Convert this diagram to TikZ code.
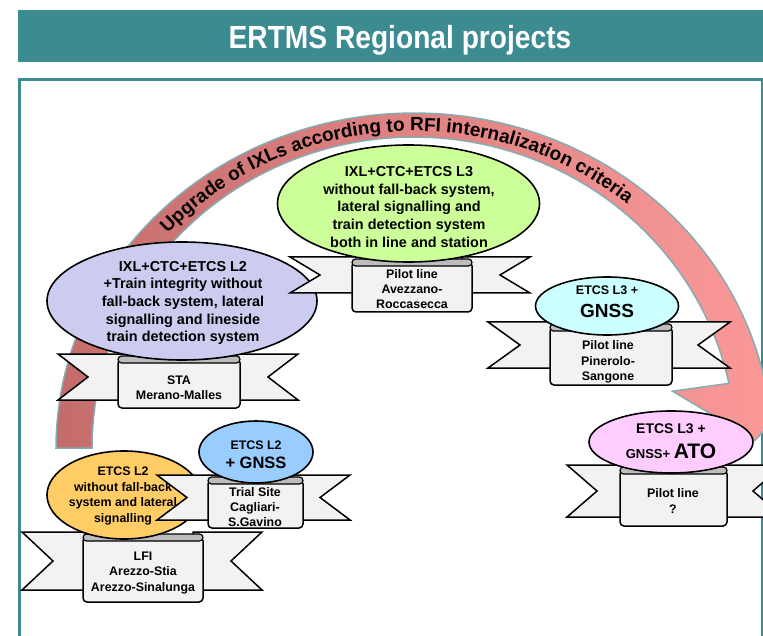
\documentclass[tikz,border=0pt]{standalone}
\usepackage{fontspec}
\setmainfont{Liberation Sans}
\newfontfamily\titlefont[FakeStretch=0.88]{Liberation Sans}
\usetikzlibrary{shapes.geometric,decorations.text}

\definecolor{barteal}{HTML}{3C8B91}
\definecolor{arcdark}{HTML}{C46C6C}
\definecolor{arclight}{HTML}{FF9C9C}
\definecolor{arcedge}{HTML}{86ABB0}
\definecolor{fillLav}{HTML}{CCCCF0}
\definecolor{fillGreen}{HTML}{CCFF99}
\definecolor{fillCyan}{HTML}{CCFFFF}
\definecolor{fillPink}{HTML}{FFCCFF}
\definecolor{fillOrange}{HTML}{FFCC66}
\definecolor{fillBlue}{HTML}{99CCFF}
\definecolor{ribbonGray}{HTML}{F2F2F2}
\definecolor{rollGray}{HTML}{BDBDBD}

\tikzset{
  bubble/.style={ellipse, draw=black, line width=1.6pt, inner sep=0pt},
  bubbletext/.style={align=center, inner sep=0pt,
    font=\bfseries\fontsize{14.4}{17.6}\selectfont},
  smalltext/.style={align=center, inner sep=0pt,
    font=\bfseries\fontsize{12.4}{15.4}\selectfont},
  wing/.style={draw=black, line width=1.5pt, fill=ribbonGray, line join=miter},
  roll/.style={draw=black, line width=1.2pt, fill=rollGray},
  paneltext/.style={align=center, inner sep=0pt,
    font=\bfseries\fontsize{12.4}{15.4}\selectfont}
}

% Down ribbon: #1 left end, #2 right end, #3 notch depth, #4 wing top,
% #5 wing bottom, #6 panel left, #7 panel right, #8 panel bottom
\newcommand{\ribbonbase}[8]{%
  \draw[wing] (#1,#4) -- ({#6+10},#4) -- ({#6+10},#5) -- (#1,#5)
     -- ({#1+#3},{(#4+#5)/2}) -- cycle;
  \draw[wing] (#2,#4) -- ({#7-10},#4) -- ({#7-10},#5) -- (#2,#5)
     -- ({#2-#3},{(#4+#5)/2}) -- cycle;
  \draw[wing, rounded corners=4pt] (#6,{#4+5}) rectangle (#7,#8);
  \draw[roll, rounded corners=3.5pt] (#6,{#4+2}) rectangle (#7,{#4+9});
}

\begin{document}
\begin{tikzpicture}[x=1pt,y=-1pt]
  \clip (0,0) rectangle (763,636);
  \fill[white] (0,0) rectangle (763,636);

  % heading bar and frame
  \fill[barteal] (18,10) rectangle (780,62);
  \node[anchor=base, text=white, inner sep=0pt,
        font=\titlefont\bfseries\fontsize{32}{32}\selectfont] (title)
        at (400,48.5) {ERTMS Regional projects};
  \draw[barteal, line width=3pt] (19.5,80) rectangle (762,700);

  % curved arrow
  \coordinate (barbOut) at (820.6,370.5);
  \coordinate (tip) at (754.9,440.3);
  \coordinate (barbIn) at (672.6,391.2);
  \path[draw=arcedge, line width=1.5pt, left color=arcdark, right color=arclight]
    plot[domain=180:348, samples=90, variable=\t] ({414+358*cos(\t)}, {448+335*sin(\t)})
    -- (barbOut) -- (tip) -- (barbIn)
    -- plot[domain=348:180, samples=90, variable=\t] ({414+322*cos(\t)}, {448+311*sin(\t)})
    -- cycle;
  \path[decorate, decoration={text along path, text align=center,
      text={|\bfseries\fontsize{19}{19}\selectfont|Upgrade of IXLs according to RFI internalization criteria}}]
    plot[domain=200:332, samples=120, variable=\t] ({414+334*cos(\t)}, {448+317*sin(\t)});

  % LFI
  \ribbonbase{22}{262}{31}{532}{590}{83}{203}{602}
  \node[paneltext] (lfiText) at (143,573) {LFI\\Arezzo-Stia\\Arezzo-Sinalunga};
  \node[bubble, fill=fillOrange, minimum width=154pt, minimum height=88pt] (lfiBubble) at (124,495) {};
  \node[smalltext] (lfiLabel) at (123,496) {ETCS L2\\without fall-back\\system and lateral\\signalling};

  % Trial site
  \ribbonbase{157}{350}{30}{475}{520}{208}{303}{528}
  \node[paneltext] (trialText) at (255,507) {Trial Site\\Cagliari-\\S.Gavino};
  \node[bubble, fill=fillBlue, minimum width=114pt, minimum height=62pt] (trialBubble) at (256,452) {};
  \node[anchor=base, inner sep=0pt, font=\bfseries\fontsize{12.4}{12.4}\selectfont] (trialTop) at (256,449.4) {ETCS L2};
  \node[anchor=base, inner sep=0pt, font=\bfseries\fontsize{16.5}{16.5}\selectfont] (trialBig) at (256,468) {+ GNSS};

  % STA
  \ribbonbase{58}{298}{30}{354}{400}{118}{240}{408}
  \node[paneltext] (staText) at (179,388) {STA\\Merano-Malles};
  \node[bubble, fill=fillLav, minimum width=270pt, minimum height=118pt] (staBubble) at (182,301) {};
  \node[bubbletext] (staLabel) at (183,303) {IXL+CTC+ETCS L2\\+Train integrity without\\fall-back system, lateral\\signalling and lineside\\train detection system};

  % Avezzano
  \ribbonbase{290}{530}{30}{257}{293}{352}{472}{312}
  \node[paneltext] (aveText) at (412,289) {Pilot line\\Avezzano-\\Roccasecca};
  \node[bubble, fill=fillGreen, minimum width=262pt, minimum height=117pt] (aveBubble) at (408.5,203.5) {};
  \node[bubbletext] (aveLabel) at (409,207) {IXL+CTC+ETCS L3\\without fall-back system,\\lateral signalling and\\train detection system\\both in line and station};

  % Pinerolo
  \ribbonbase{488}{730}{32}{322}{368}{550}{672}{385}
  \node[paneltext] (pinText) at (608,362) {Pilot line\\Pinerolo-\\Sangone};
  \node[bubble, fill=fillCyan, minimum width=143pt, minimum height=58pt] (pinBubble) at (607,306) {};
  \node[anchor=base, inner sep=0pt, font=\bfseries\fontsize{12.5}{12.5}\selectfont] (pinTop) at (607,294.5) {ETCS L3 +};
  \node[anchor=base, inner sep=0pt, font=\bfseries\fontsize{19}{19}\selectfont] (pinBig) at (607,317) {GNSS};

  % ATO
  \ribbonbase{567}{783}{30}{465}{517}{620}{727}{526}
  \node[paneltext] (atoText) at (673,501) {Pilot line\\?};
  \node[bubble, fill=fillPink, minimum width=164pt, minimum height=62pt] (atoBubble) at (671,442) {};
  \node[anchor=base, inner sep=0pt, font=\bfseries\fontsize{14}{14}\selectfont] (atoTop) at (671,433) {ETCS L3 +};
  \node[anchor=base, inner sep=0pt, font=\bfseries] (atoBig) at (671,458.5)
     {{\fontsize{13}{13}\selectfont GNSS+ }{\fontsize{21}{21}\selectfont ATO}};
\end{tikzpicture}
\end{document}
